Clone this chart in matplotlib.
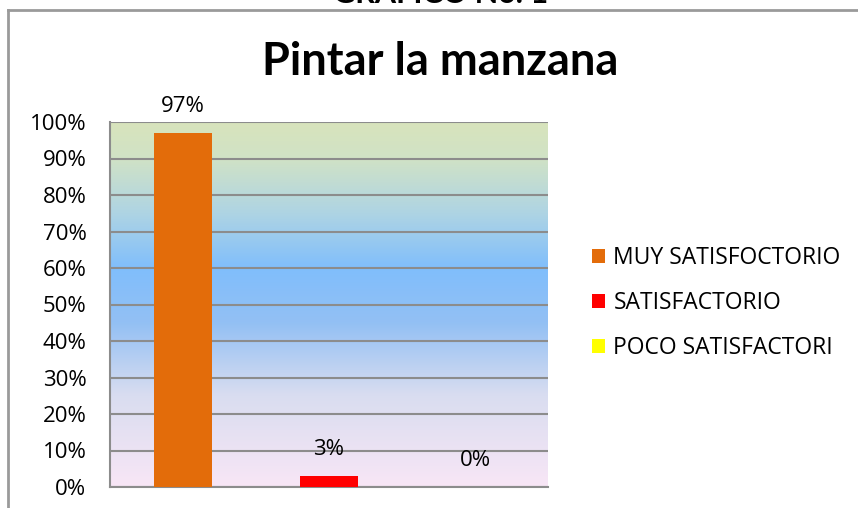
import numpy as np
import matplotlib.pyplot as plt
from matplotlib.colors import LinearSegmentedColormap
from matplotlib.lines import Line2D
from matplotlib.patches import Patch

categorias = ["MUY SATISFOCTORIO", "SATISFACTORIO", "POCO SATISFACTORI"]
valores = [97, 3, 0]
etiquetas = ["97%", "3%", "0%"]
colores = ["#E36C0A", "#FF0000", "#FFFF00"]
yticks = list(range(0, 101, 10))

W, H = 858, 508
fig = plt.figure(figsize=(W / 100, H / 100), dpi=100)
fig.patch.set_facecolor("white")

# outer frame of the chart (left + top edges visible)
fig.add_artist(Line2D([8 / W, 8 / W], [0, 1 - 10 / H], color="#9a9a9a", lw=2))
fig.add_artist(Line2D([8 / W, 1], [1 - 10 / H, 1 - 10 / H], color="#9a9a9a", lw=2))

# heading above the frame, mostly cut off by the page edge
fig.text(441 / W, 1 - 3 / H, "GRÁFICO No. 1", ha="center", va="baseline",
         fontsize=22, fontweight="bold", family="Lato")

ax = fig.add_axes([110 / W, 1 - 487 / H, 438 / W, 365 / H])

# background gradient
cmap = LinearSegmentedColormap.from_list("fondo", [
    (0.0, "#F8E6F6"), (0.25, "#D9DDF0"), (0.45, "#93C0F4"),
    (0.6, "#80BEFC"), (0.75, "#AED4E4"), (0.9, "#D0E2C6"), (1.0, "#D8E4BC")])
grad = np.linspace(0, 1, 256).reshape(-1, 1)
ax.imshow(grad, cmap=cmap, aspect="auto", extent=[-0.5, 2.5, 0, 100],
          origin="lower", zorder=0)

x = np.arange(len(categorias))
ax.bar(x, valores, width=0.4, color=colores, zorder=3)
for xi, v, t in zip(x, valores, etiquetas):
    ax.text(xi, v + 7.2, t, ha="center", va="center", fontsize=16,
            family="Open Sans", zorder=4)

ax.set_xlim(-0.5, 2.5)
ax.set_ylim(0, 100)
ax.set_yticks(yticks)
ax.set_yticklabels([f"{t}%" for t in yticks], fontsize=16, family="Open Sans")
ax.set_xticks([])
ax.tick_params(axis="y", length=0, pad=17)
ax.yaxis.grid(True, color="#8c8c8c", lw=1.5, zorder=2)
ax.set_axisbelow(False)
for s in ["top", "right"]:
    ax.spines[s].set_visible(False)
for s in ["left", "bottom"]:
    ax.spines[s].set_color("#8c8c8c")
    ax.spines[s].set_linewidth(1.5)

fig.text(440 / W, 1 - 62 / H, "Pintar la manzana", ha="center", va="center",
         fontsize=32.5, fontweight="bold", family="Lato")

handles = [Patch(facecolor=c, edgecolor="none") for c in colores]
fig.legend(handles, categorias, loc="center left",
           bbox_to_anchor=(571 / W, 1 - 303 / H), frameon=False,
           prop={"family": "Open Sans", "size": 16.5}, handlelength=0.6,
           handleheight=0.6, handletextpad=0.35, labelspacing=0.92)

fig.savefig("out.png", dpi=100)
